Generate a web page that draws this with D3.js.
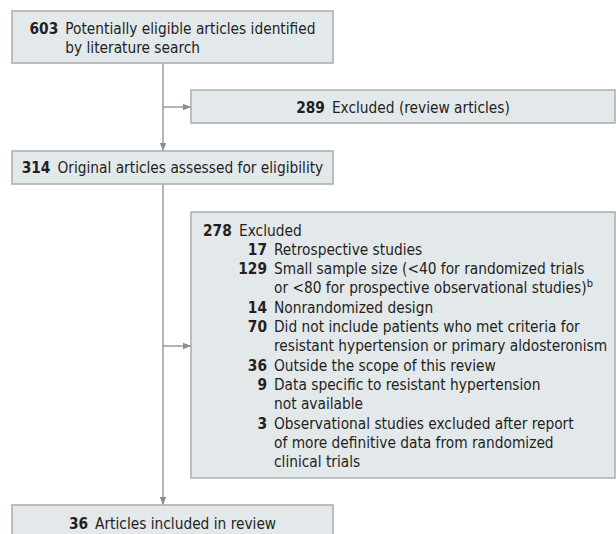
<!DOCTYPE html>
<html>
<head>
<meta charset="utf-8">
<script src="https://cdn.jsdelivr.net/npm/d3@7"></script>
<style>
  body { margin: 0; background: #fff; }
  svg text { font-family: "DejaVu Sans Condensed", "DejaVu Sans", sans-serif; fill: #231f20; }
</style>
</head>
<body>
<svg width="616" height="534"></svg>
<script>
// flow stages (main column)
const stageCounts = [603, 314, 36];
const stageLabels = [
  ["Potentially eligible articles identified", "by literature search"],
  ["Original articles assessed for eligibility"],
  ["Articles included in review"]
];
// exclusions (side boxes)
const excludedCounts = [289, 278];
const excludedLabels = ["Excluded (review articles)", "Excluded"];
// reasons for the second exclusion
const reasonCounts = [17, 129, 14, 70, 36, 9, 3];
const reasonLabels = [
  ["Retrospective studies"],
  ["Small sample size (<40 for randomized trials", "or <80 for prospective observational studies)"],
  ["Nonrandomized design"],
  ["Did not include patients who met criteria for", "resistant hypertension or primary aldosteronism"],
  ["Outside the scope of this review"],
  ["Data specific to resistant hypertension", "not available"],
  ["Observational studies excluded after report", "of more definitive data from randomized", "clinical trials"]
];

var svg = d3.select("svg");
var FS = 15.3, LH = 19.3, fill = "#e3e8eb", edge = "#a9acae", wire = "#8c8c8c";

svg.append("defs").append("marker")
    .attr("id", "arr").attr("viewBox", "0 0 10 10")
    .attr("refX", 10).attr("refY", 5)
    .attr("markerWidth", 8).attr("markerHeight", 8)
    .attr("markerUnits", "userSpaceOnUse")
    .attr("orient", "auto")
  .append("path").attr("d", "M0,1L10,5L0,9Z").attr("fill", wire);

// box geometry
var mainX = [12, 333], sideX = [191, 615];
var mainBoxes = [[11, 63], [151, 184], [505, 540]];
var sideBoxes = [[90, 123], [212, 478]];
var trunkX = 163;

function box(x, y) {
  svg.append("rect")
      .attr("x", x[0]).attr("y", y[0])
      .attr("width", x[1] - x[0]).attr("height", y[1] - y[0])
      .attr("fill", fill).attr("stroke", edge).attr("stroke-width", 1.5);
}

function line(x1, y1, x2, y2) {
  svg.append("line")
      .attr("x1", x1).attr("y1", y1).attr("x2", x2).attr("y2", y2)
      .attr("stroke", wire).attr("stroke-width", 1.3)
      .attr("marker-end", "url(#arr)");
}

// connectors
line(trunkX, mainBoxes[0][1], trunkX, mainBoxes[1][0]);
line(trunkX, mainBoxes[1][1], trunkX, mainBoxes[2][0]);
line(trunkX, 107, sideX[0], 107);
line(trunkX, 346, sideX[0], 346);

mainBoxes.forEach(function(b) { box(mainX, b); });
sideBoxes.forEach(function(b) { box(sideX, b); });

// centered block: bold number + label lines
function centeredEntry(num, lines, x, yc) {
  var g = svg.append("g");
  var n = g.append("text").attr("font-weight", "bold").attr("font-size", FS).text(num);
  var t = g.append("text").attr("font-size", FS);
  t.selectAll("tspan").data(lines).enter().append("tspan")
      .attr("dy", function(d, i) { return i ? LH : 0; })
      .text(function(d) { return d; });
  var nw = n.node().getComputedTextLength(), gap = 7;
  var tw = t.select("tspan").node().getComputedTextLength();
  var left = (x[0] + x[1]) / 2 - (nw + gap + tw) / 2;
  var base = yc - (lines.length - 1) * LH / 2 + 5.5;
  n.attr("x", left).attr("y", base);
  t.attr("y", base).selectAll("tspan").attr("x", left + nw + gap);
}

centeredEntry(stageCounts[0], stageLabels[0], mainX, 38);
centeredEntry(stageCounts[1], stageLabels[1], mainX, 167.5);
centeredEntry(stageCounts[2], stageLabels[2], mainX, 523);
centeredEntry(excludedCounts[0], [excludedLabels[0]], sideX, 107);

// second exclusion box, listed reasons
svg.append("text").attr("x", 203).attr("y", 230 + 5.5)
    .attr("font-weight", "bold").attr("font-size", FS).text(excludedCounts[1]);
svg.append("text").attr("x", 239).attr("y", 230 + 5.5)
    .attr("font-size", FS).text(excludedLabels[1]);

var row = 1;
reasonCounts.forEach(function(c, i) {
  var y0 = 230 + row * LH + 5.5;
  svg.append("text").attr("x", 267).attr("y", y0).attr("text-anchor", "end")
      .attr("font-weight", "bold").attr("font-size", FS).text(c);
  var t = svg.append("text").attr("x", 274).attr("y", y0).attr("font-size", FS);
  reasonLabels[i].forEach(function(l, j) {
    t.append("tspan").attr("x", 274).attr("dy", j ? LH : 0).text(l);
    if (i == 1 && j == 1) {
      t.append("tspan").attr("dy", -6).attr("font-size", 11).text("b");
    }
  });
  row += reasonLabels[i].length;
});
</script>
</body>
</html>
